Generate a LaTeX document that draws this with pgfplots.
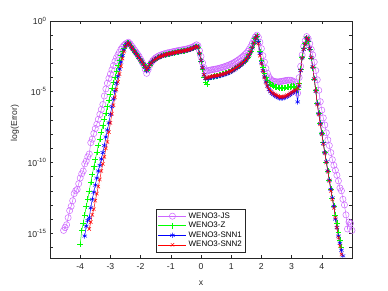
\documentclass[border=0pt]{standalone}
\usepackage{pgfplots}
\pgfplotsset{compat=1.18}
\usepackage{pgfplotstable}
\usepackage{fontspec}
\setmainfont{Liberation Sans}
\definecolor{cjs}{rgb}{0.8,0.4,1}
\definecolor{cz}{rgb}{0,1,0}
\definecolor{cs1}{rgb}{0,0,1}
\definecolor{cs2}{rgb}{1,0,0}
\definecolor{axgray}{rgb}{0.15,0.15,0.15}

% x, log10(error) for WENO3-JS, WENO3-Z, WENO3-SNN1, WENO3-SNN2
\pgfplotstableread{
x js z s1 s2
-4.55 -14.8 nan nan nan
-4.50 -14.6 nan nan nan
-4.45 -14.4 nan nan nan
-4.40 -13.9 nan nan nan
-4.35 -13.4 nan nan nan
-4.30 -13.1 nan nan nan
-4.25 -12.7 nan nan nan
-4.20 -12.2 nan nan nan
-4.15 -12.0 nan nan nan
-4.10 -11.9 nan nan nan
-4.05 -11.5 nan nan nan
-4.00 -11.1 -15.8 nan nan
-3.95 -10.8 -14.8 nan nan
-3.90 -10.6 -14.3 nan nan
-3.85 -10.1 -13.7 -15.2 nan
-3.80 -9.9 -13.1 -14.5 nan
-3.75 -9.6 -12.6 -14.1 nan
-3.70 -9.4 -12.0 -13.9 -14.7
-3.65 -8.6 -11.4 -13.2 -14.2
-3.60 -8.35 -10.85 -12.6 -13.7
-3.55 -7.95 -10.3 -12.1 -13.3
-3.50 -7.6 -9.8 -11.6 -12.7
-3.45 -7.3 -9.3 -11.1 -12.2
-3.40 -6.95 -8.8 -10.6 -11.7
-3.35 -6.6 -8.35 -10.2 -11.2
-3.30 -6.25 -7.85 -9.75 -10.6
-3.25 -5.9 -7.4 -9.3 -10.1
-3.20 -5.3 -6.95 -8.8 -9.6
-3.15 -4.8 -6.5 -8.2 -9.0
-3.10 -4.4 -6.05 -7.7 -8.55
-3.05 -4.05 -5.6 -7.2 -7.85
-3.00 -3.75 -5.15 -6.6 -7.2
-2.95 -3.45 -4.75 -6.05 -6.55
-2.90 -3.15 -4.35 -5.5 -5.95
-2.85 -2.85 -3.95 -4.95 -5.4
-2.80 -2.6 -3.55 -4.4 -4.85
-2.75 -2.4 -3.15 -3.9 -4.3
-2.70 -2.2 -2.8 -3.4 -3.75
-2.65 -2.0 -2.45 -2.9 -3.2
-2.60 -1.85 -2.15 -2.45 -2.65
-2.55 -1.72 -1.9 -2.05 -2.15
-2.50 -1.62 -1.7 -1.75 -1.8
-2.45 -1.55 -1.57 -1.58 -1.6
-2.40 -1.5 -1.55 -1.55 -1.55
-2.35 -1.6 -1.7 -1.7 -1.7
-2.30 -1.75 -1.85 -1.85 -1.85
-2.25 -1.9 -2.0 -2.0 -2.0
-2.20 -2.05 -2.15 -2.15 -2.15
-2.15 -2.2 -2.3 -2.3 -2.3
-2.10 -2.35 -2.45 -2.45 -2.45
-2.05 -2.5 -2.6 -2.6 -2.6
-2.00 -2.7 -2.75 -2.75 -2.75
-1.95 -2.9 -2.9 -2.9 -2.9
-1.90 -3.1 -3.05 -3.08 -3.05
-1.85 -3.4 -3.25 -3.3 -3.25
-1.80 -3.7 -3.45 -3.5 -3.45
-1.75 -3.45 -3.3 -3.35 -3.3
-1.70 -3.15 -3.1 -3.1 -3.1
-1.65 -2.95 -2.95 -2.95 -2.95
-1.60 -2.8 -2.85 -2.85 -2.85
-1.55 -2.7 -2.75 -2.76 -2.75
-1.50 -2.6 -2.68 -2.69 -2.68
-1.45 -2.53 -2.62 -2.63 -2.62
-1.40 -2.47 -2.56 -2.57 -2.56
-1.35 -2.42 -2.51 -2.52 -2.51
-1.30 -2.38 -2.47 -2.48 -2.47
-1.25 -2.34 -2.43 -2.44 -2.43
-1.20 -2.31 -2.40 -2.41 -2.40
-1.15 -2.28 -2.37 -2.38 -2.37
-1.10 -2.25 -2.34 -2.35 -2.34
-1.05 -2.23 -2.32 -2.33 -2.32
-1.00 -2.21 -2.30 -2.31 -2.30
-0.95 -2.18 -2.27 -2.28 -2.27
-0.90 -2.16 -2.25 -2.26 -2.25
-0.85 -2.13 -2.22 -2.23 -2.22
-0.80 -2.11 -2.20 -2.21 -2.20
-0.75 -2.09 -2.18 -2.19 -2.18
-0.70 -2.07 -2.16 -2.17 -2.16
-0.65 -2.05 -2.14 -2.15 -2.14
-0.60 -2.03 -2.12 -2.13 -2.12
-0.55 -2.01 -2.10 -2.11 -2.10
-0.50 -1.99 -2.08 -2.09 -2.08
-0.45 -1.96 -2.05 -2.06 -2.05
-0.40 -1.93 -2.02 -2.03 -2.02
-0.35 -1.9 -1.99 -2.0 -1.99
-0.30 -1.86 -1.95 -1.96 -1.95
-0.25 -1.81 -1.9 -1.91 -1.9
-0.20 -1.75 -1.85 -1.86 -1.85
-0.15 -1.68 -1.8 -1.81 -1.8
-0.10 -1.75 -1.85 -1.87 -1.85
-0.05 -2.1 -2.3 -2.32 -2.3
0.00 -2.5 -2.85 -2.8 -2.8
0.05 -2.95 -3.4 -3.3 -3.3
0.10 -3.3 -3.95 -3.8 -3.8
0.15 -3.5 -4.3 -4.05 -4.05
0.20 -3.55 -4.47 -4.05 -4.0
0.25 -3.5 -4.1 -4.05 -3.97
0.30 -3.47 -4.0 -4.0 -3.94
0.35 -3.45 -3.97 -3.98 -3.92
0.40 -3.43 -3.94 -3.96 -3.9
0.45 -3.41 -3.91 -3.94 -3.88
0.50 -3.39 -3.89 -3.92 -3.86
0.55 -3.37 -3.86 -3.9 -3.84
0.60 -3.34 -3.83 -3.88 -3.82
0.65 -3.31 -3.8 -3.85 -3.8
0.70 -3.28 -3.77 -3.82 -3.77
0.75 -3.25 -3.74 -3.79 -3.74
0.80 -3.21 -3.7 -3.75 -3.7
0.85 -3.17 -3.66 -3.71 -3.66
0.90 -3.13 -3.62 -3.67 -3.62
0.95 -3.09 -3.58 -3.62 -3.57
1.00 -3.04 -3.53 -3.57 -3.52
1.05 -2.99 -3.47 -3.51 -3.46
1.10 -2.93 -3.4 -3.45 -3.39
1.15 -2.87 -3.33 -3.38 -3.32
1.20 -2.8 -3.26 -3.3 -3.25
1.25 -2.73 -3.18 -3.22 -3.17
1.30 -2.65 -3.1 -3.14 -3.09
1.35 -2.57 -3.01 -3.05 -3.0
1.40 -2.48 -2.92 -2.96 -2.92
1.45 -2.38 -2.82 -2.86 -2.82
1.50 -2.27 -2.7 -2.74 -2.7
1.55 -2.14 -2.55 -2.58 -2.55
1.60 -1.98 -2.37 -2.4 -2.37
1.65 -1.8 -2.15 -2.18 -2.15
1.70 -1.58 -1.87 -1.9 -1.87
1.75 -1.35 -1.55 -1.57 -1.55
1.80 -1.12 -1.22 -1.22 -1.22
1.85 -1.0 -1.05 -1.05 -1.05
1.90 -1.15 -1.45 -1.5 -1.6
1.95 -1.5 -2.15 -2.3 -2.45
2.00 -1.95 -2.8 -2.95 -3.0
2.05 -2.45 -3.3 -3.5 -3.55
2.10 -2.9 -3.7 -3.95 -4.0
2.15 -3.35 -4.0 -4.3 -4.35
2.20 -3.7 -4.2 -4.6 -4.6
2.25 -3.95 -4.35 -4.85 -4.8
2.30 -4.1 -4.45 -5.0 -4.95
2.35 -4.2 -4.55 -5.12 -5.05
2.40 -4.25 -4.6 -5.2 -5.13
2.45 -4.28 -4.65 -5.28 -5.2
2.50 -4.3 -4.68 -5.34 -5.25
2.55 -4.3 -4.7 -5.4 -5.3
2.60 -4.29 -4.72 -5.44 -5.35
2.65 -4.27 -4.73 -5.46 -5.37
2.70 -4.25 -4.73 -5.45 -5.36
2.75 -4.23 -4.72 -5.42 -5.34
2.80 -4.21 -4.7 -5.38 -5.3
2.85 -4.19 -4.68 -5.33 -5.25
2.90 -4.18 -4.66 -5.27 -5.2
2.95 -4.18 -4.64 -5.2 -5.12
3.00 -4.2 -4.62 -5.12 -5.05
3.05 -4.25 -4.62 -5.05 -4.98
3.10 -4.32 -4.65 -4.98 -4.92
3.15 -4.45 -4.72 -4.95 -4.85
3.20 -5.1 -4.85 -5.72 -4.75
3.25 -4.0 -4.4 -4.6 -4.5
3.30 -3.2 -3.4 -3.5 -3.5
3.35 -2.4 -2.55 -2.6 -2.6
3.40 -1.8 -1.95 -2.0 -2.0
3.45 -1.4 -1.55 -1.6 -1.6
3.50 -1.1 -1.18 -1.2 -1.2
3.55 -1.25 -1.4 -1.35 -1.35
3.60 -1.6 -2.0 -1.95 -1.95
3.65 -2.0 -2.65 -2.6 -2.6
3.70 -2.4 -3.3 -3.25 -3.25
3.75 -2.9 -4.1 -4.1 -4.1
3.80 -3.5 -4.9 -4.95 -4.95
3.85 -4.15 -5.8 -5.85 -5.9
3.90 -4.9 -6.5 -6.55 -6.6
3.95 -5.7 -7.2 -7.25 -7.3
4.00 -6.3 -7.9 -7.95 -8.0
4.05 -6.85 -8.6 -8.65 -8.7
4.10 -7.35 -9.3 -9.3 -9.35
4.15 -7.9 -9.95 -9.95 -10.0
4.20 -8.4 -10.6 -10.6 -10.65
4.25 -8.8 -11.25 -11.25 -11.3
4.30 -9.3 -11.9 -11.9 -12.0
4.35 -9.8 -12.5 -12.5 -12.6
4.40 -10.2 -13.1 -13.1 -13.2
4.45 -10.55 -13.7 -14.0 -13.9
4.50 -10.9 -14.3 -14.6 -14.6
4.55 -11.3 -14.9 -15.2 -15.3
4.60 -11.8 -15.5 -15.7 -15.9
4.65 -12.0 -16.0 -16.2 -16.5
4.70 -12.6 nan -16.6 nan
4.75 -13.0 nan nan nan
4.80 -13.7 nan nan nan
4.85 -14.7 nan nan nan
4.90 -14.2 nan nan nan
4.95 -14.3 nan nan nan
5.00 -14.8 nan nan nan
}\errtab

\begin{document}
\begin{tikzpicture}
\useasboundingbox (-50bp,-33bp) rectangle (338bp,258bp);
\begin{axis}[
  at={(0,0)}, anchor=south west,
  scale only axis, width=302bp, height=237bp,
  xmin=-5, xmax=5, ymin=-16.75, ymax=0,
  xtick={-4,-3,-2,-1,0,1,2,3,4},
  ytick={-15,-10,-5,0},
  yticklabels={10\textsuperscript{-15},10\textsuperscript{-10},10\textsuperscript{-5},10\textsuperscript{0}},
  minor ytick={-16,-14,-13,-12,-11,-9,-8,-7,-6,-4,-3,-2,-1},
  tick align=inside,
  major tick length=3bp, minor tick length=3bp,
  axis line style={axgray, line width=0.5bp},
  every tick/.style={axgray, line width=0.5bp},
  tick label style={font=\fontsize{8.7}{10}\selectfont, text=axgray},
  xticklabel style={/pgf/number format/assume math mode=true, yshift=-2bp},
  label style={font=\fontsize{8.7}{10}\selectfont, text=axgray},
  xlabel={x}, ylabel={log(Error)},
  xlabel style={at={(axis description cs:0.5,-0.105)}, anchor=center},
  ylabel style={at={(axis description cs:-0.116,0.57)}, anchor=center},
  legend style={at={(0.5,0.025)}, anchor=south,
    font=\fontsize{8}{9}\selectfont, draw=axgray, line width=0.5bp,
    cells={anchor=west}, inner sep=1.5bp, row sep=-1.5bp},
  legend image code/.code={\draw[mark repeat=2,mark phase=2] plot coordinates {(0bp,0bp) (14bp,0bp) (28bp,0bp)};},
]
\addplot[cjs, line width=0.5bp, mark=o, mark size=3.1bp, mark options={solid}] table[x=x, y=js] {\errtab};
\addlegendentry{WENO3-JS}
\addplot[cz, line width=0.5bp, mark=+, mark size=2.9bp, mark options={solid}] table[x=x, y=z] {\errtab};
\addlegendentry{WENO3-Z}
\addplot[cs1, line width=0.5bp, mark=asterisk, mark size=2.6bp, mark options={solid}] table[x=x, y=s1] {\errtab};
\addlegendentry{WENO3-SNN1}
\addplot[cs2, line width=0.5bp, mark=x, mark size=2.4bp, mark options={solid}] table[x=x, y=s2] {\errtab};
\addlegendentry{WENO3-SNN2}
\end{axis}
\end{tikzpicture}
\end{document}
